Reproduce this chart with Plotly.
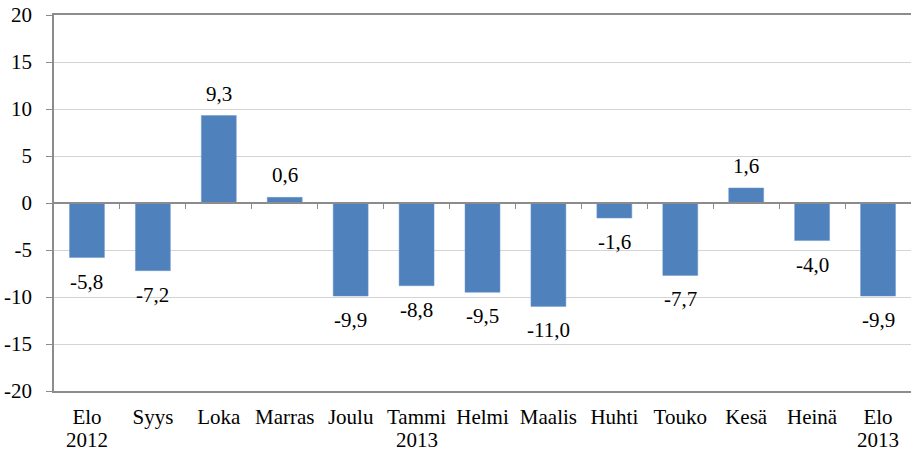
import plotly.graph_objects as go

months = ["Elo", "Syys", "Loka", "Marras", "Joulu", "Tammi", "Helmi",
          "Maalis", "Huhti", "Touko", "Kesä", "Heinä", "Elo"]
years = ["2012", "", "", "", "", "2013", "", "", "", "", "", "", "2013"]
values = [-5.8, -7.2, 9.3, 0.6, -9.9, -8.8, -9.5, -11.0, -1.6, -7.7, 1.6, -4.0, -9.9]
y_ticks = [-20, -15, -10, -5, 0, 5, 10, 15, 20]

FONT = "Liberation Serif, Times New Roman, serif"
FS = 21
labels = [f"{v:.1f}".replace(".", ",") for v in values]
xs = list(range(len(months)))

fig = go.Figure()
fig.add_trace(go.Bar(x=xs, y=values, marker=dict(color="#4F81BD", line=dict(color="#6d97cc", width=0.5)),
                     width=0.53, hoverinfo="skip"))
fig.add_trace(go.Scatter(x=[-0.5, len(months) - 0.5], y=[0, 0], xaxis="x2", mode="lines",
                         line=dict(width=0), hoverinfo="skip", showlegend=False))

for x, v, t in zip(xs, values, labels):
    fig.add_annotation(x=x, y=v, text=t, showarrow=False,
                       yanchor="bottom" if v >= 0 else "top",
                       yshift=8 if v >= 0 else -10,
                       font=dict(family=FONT, size=FS, color="#000"))

for x, yr in zip(xs, years):
    if yr:
        fig.add_annotation(x=x, xref="x", y=0, yref="paper", text=yr, showarrow=False,
                           yanchor="middle", yshift=-49,
                           font=dict(family=FONT, size=FS, color="#000"))

fig.update_layout(
    width=911, height=452,
    margin=dict(l=54, r=0, t=15, b=61),
    paper_bgcolor="white", plot_bgcolor="white",
    showlegend=False,
    font=dict(family=FONT, size=FS, color="#000"),
    xaxis=dict(range=[-0.5, len(months) - 0.5], tickmode="array", tickvals=xs, ticktext=months,
               showline=True, linecolor="#8c8c8c", linewidth=1.5, mirror=True, ticks="",
               showgrid=False, zeroline=False, tickfont=dict(family=FONT, size=FS),
               ticklabelstandoff=6, automargin=False),
    xaxis2=dict(overlaying="x", anchor="free", position=0.5, range=[-0.5, len(months) - 0.5],
                tickmode="array", tickvals=[i + 0.5 for i in range(len(months) - 1)],
                ticks="outside", ticklen=5, tickcolor="#8c8c8c", showticklabels=False,
                showline=True, linecolor="#8c8c8c", linewidth=1.5, showgrid=False, zeroline=False,
                side="bottom"),
    yaxis=dict(range=[-20, 20], tickmode="array", tickvals=y_ticks, ticktext=[str(t) for t in y_ticks],
               showline=True, linecolor="#8c8c8c", linewidth=1.5, ticks="outside", ticklen=6,
               tickcolor="#8c8c8c", showgrid=True, gridcolor="#d4d4d4", gridwidth=1.2,
               zeroline=False, tickfont=dict(family=FONT, size=FS), ticklabelstandoff=10,
               automargin=False),
)

fig.write_html("out.html", config={"displayModeBar": False},
               post_script="document.body.style.margin='0';")
